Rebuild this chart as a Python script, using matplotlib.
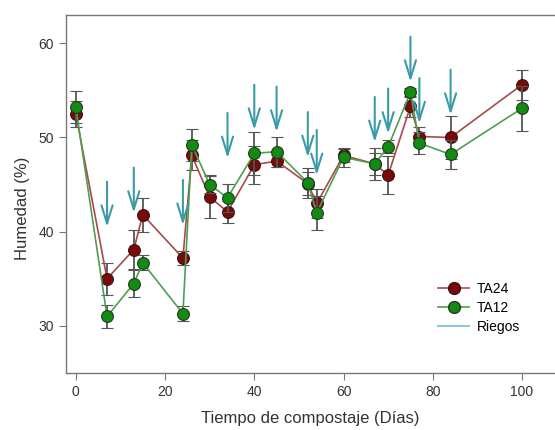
import matplotlib
matplotlib.use("Agg")
import matplotlib.pyplot as plt
from matplotlib.lines import Line2D

plt.rcParams['font.family'] = ['Liberation Sans', 'DejaVu Sans']

# Datos
dias = [0, 7, 13, 15, 24, 26, 30, 34, 40, 45, 52, 54, 60, 67, 70, 75, 77, 84, 100]
ta24 = [52.5, 35.0, 38.1, 41.8, 37.2, 48.1, 43.7, 42.1, 47.1, 47.5, 45.1, 43.0, 48.1, 47.2, 46.0, 53.3, 50.1, 50.0, 55.6]
ta24_err = [1.4, 1.7, 2.1, 1.8, 0.7, 1.6, 2.3, 1.2, 2.0, 0.6, 1.2, 1.5, 0.7, 1.2, 2.0, 1.1, 1.0, 2.3, 1.6]
ta12 = [53.2, 31.0, 34.5, 36.7, 31.3, 49.2, 45.0, 43.6, 48.3, 48.5, 45.2, 42.0, 47.9, 47.2, 49.0, 54.8, 49.4, 48.2, 53.1]
ta12_err = [1.7, 1.2, 1.4, 0.8, 0.8, 1.7, 0.9, 1.5, 2.3, 1.6, 1.6, 1.8, 1.0, 1.7, 0.7, 0.5, 1.2, 1.5, 2.4]

# Riegos: dia y punta de la flecha
riegos = [7, 13, 24, 34, 40, 45, 52, 54, 67, 70, 75, 77, 84]
riegos_punta = [40.5, 42.0, 40.7, 47.8, 50.8, 50.6, 47.9, 46.0, 49.5, 50.4, 55.9, 51.5, 52.4]

c_riego = '#3a9ba6'

fig = plt.figure(figsize=(5.55, 4.3), dpi=100)
ax = fig.add_axes([66 / 555, 1 - 373 / 430, (555 - 66) / 555, (373 - 15) / 430])

ax.errorbar(dias, ta24, yerr=ta24_err, color='#a84a4a', lw=1.2,
            marker='o', ms=8.5, mfc='#7a0a0a', mec='#3a1010', mew=0.8,
            ecolor='#555555', elinewidth=1.3, capsize=4.5, capthick=1.3, zorder=3)
ax.errorbar(dias, ta12, yerr=ta12_err, color='#4f9e4f', lw=1.2,
            marker='o', ms=8.5, mfc='#138a13', mec='#1d3d1d', mew=0.8,
            ecolor='#555555', elinewidth=1.3, capsize=4.5, capthick=1.3, zorder=4)

for d, p in zip(riegos, riegos_punta):
    ax.annotate('', xy=(d, p), xytext=(d, p + 4.8),
                arrowprops=dict(arrowstyle='->, head_length=1.3, head_width=0.4',
                                color=c_riego, lw=1.5, shrinkA=0, shrinkB=0),
                zorder=5)

ax.set_xlim(-2.2, 107.4)
ax.set_ylim(25, 63)
ax.set_xticks([0, 20, 40, 60, 80, 100])
ax.set_yticks([30, 40, 50, 60])

for s in ['left', 'bottom', 'top']:
    ax.spines[s].set_color('#777777')
    ax.spines[s].set_linewidth(1.0)
ax.spines['right'].set_visible(False)
ax.tick_params(direction='out', length=5, color='#777777', labelsize=10,
               labelcolor='#333333')

ax.set_xlabel('Tiempo de compostaje (Días)', fontsize=12, color='#333333', labelpad=9)
ax.set_ylabel('Humedad (%)', fontsize=12, color='#333333')
ax.yaxis.set_label_coords(-0.074, 0.46)

handles = [
    Line2D([], [], color='#a84a4a', lw=1.2, marker='o', ms=8.5, mfc='#7a0a0a', mec='#3a1010'),
    Line2D([], [], color='#4f9e4f', lw=1.2, marker='o', ms=8.5, mfc='#138a13', mec='#1d3d1d'),
    Line2D([], [], color='#8fc6d8', lw=1.5),
]
ax.legend(handles, ['TA24', 'TA12', 'Riegos'], loc='lower right',
          bbox_to_anchor=(0.955, 0.075), frameon=False, fontsize=10,
          handlelength=2.2, labelspacing=0.35, handletextpad=0.6)

fig.savefig('out.png', dpi=100)
